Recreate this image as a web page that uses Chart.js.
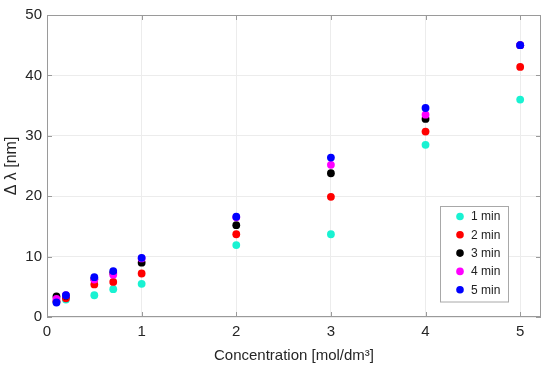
<!DOCTYPE html>
<html>
<head>
<meta charset="utf-8">
<script src="https://cdn.jsdelivr.net/npm/chart.js@4"></script>
<style>
  html, body { margin: 0; padding: 0; background: #fff; }
  #wrap { width: 550px; height: 375px; }
</style>
</head>
<body>
<div id="wrap"><canvas id="c"></canvas></div>
<script>
// concentrations [mol/dm3]
const conc = [0.1, 0.2, 0.5, 0.7, 1, 2, 3, 4, 5];
const seriesNames = ["1 min", "2 min", "3 min", "4 min", "5 min"];
const seriesColors = ["#19f2d2", "#ff0000", "#000000", "#ff00ff", "#0000ff"];

// Δλ [nm] per time
const min1 = [2.5, 2.9, 3.6, 4.6, 5.5, 11.9, 13.7, 28.5, 36.0];
const min2 = [2.6, 3.1, 5.4, 5.8, 7.2, 13.7, 19.9, 30.7, 41.4];
const min3 = [3.4, 3.5, 6.3, 7.3, 9.0, 15.2, 23.8, 32.8, 45.0];
const min4 = [3.0, 3.6, 6.2, 7.0, 9.7, 16.5, 25.2, 33.5, 45.0];
const min5 = [2.4, 3.6, 6.6, 7.6, 9.8, 16.6, 26.4, 34.6, 45.0];
const allSeries = [min1, min2, min3, min4, min5];

const FONT = "'Liberation Sans', Arial, Helvetica, sans-serif";
const AXIS = "#9a9a9a";

// box around plot with inward ticks, like the matlab axes
const boxPlugin = {
  id: "box",
  afterDatasetsDraw(chart) {
    const { ctx, chartArea: a, scales } = chart;
    ctx.save();
    ctx.strokeStyle = AXIS;
    ctx.lineWidth = 1;
    ctx.strokeRect(a.left + 0.5, a.top + 0.5, a.right - a.left - 1, a.bottom - a.top - 1);
    ctx.beginPath();
    scales.x.ticks.forEach(t => {
      const px = Math.round(scales.x.getPixelForValue(t.value)) + 0.5;
      ctx.moveTo(px, a.bottom); ctx.lineTo(px, a.bottom - 5);
      ctx.moveTo(px, a.top); ctx.lineTo(px, a.top + 5);
    });
    scales.y.ticks.forEach(t => {
      const py = Math.round(scales.y.getPixelForValue(t.value)) + 0.5;
      ctx.moveTo(a.left, py); ctx.lineTo(a.left + 5, py);
      ctx.moveTo(a.right, py); ctx.lineTo(a.right - 5, py);
    });
    ctx.stroke();
    ctx.restore();
  }
};

// legend inside the plot, lower right
const legendBox = {
  id: "legendBox",
  afterDraw(chart) {
    const { ctx, chartArea: a } = chart;
    const w = 68, rowH = 18.3;
    const h = rowH * seriesNames.length + 4;
    const x0 = a.right - 33 - w, y0 = a.bottom - 16 - h;
    ctx.save();
    ctx.fillStyle = "#fff";
    ctx.fillRect(x0, y0, w, h);
    ctx.strokeStyle = "#a8a8a8";
    ctx.lineWidth = 1;
    ctx.strokeRect(Math.round(x0) + 0.5, Math.round(y0) + 0.5, w, h);
    ctx.font = "12px " + FONT;
    ctx.textBaseline = "middle";
    seriesNames.forEach((name, i) => {
      const cy = y0 + 11 + i * rowH;
      ctx.fillStyle = seriesColors[i];
      ctx.beginPath();
      ctx.arc(x0 + 20, cy, 3.8, 0, Math.PI * 2);
      ctx.fill();
      ctx.fillStyle = "#222";
      ctx.fillText(name, x0 + 31, cy + 0.5);
    });
    ctx.restore();
  }
};

// later series drawn on top (blue last), so lower order for later ones
const datasets = allSeries.map((vals, i) => ({
  label: seriesNames[i],
  data: conc.map((c, j) => ({ x: c, y: vals[j] })),
  backgroundColor: seriesColors[i],
  borderColor: seriesColors[i],
  borderWidth: 0,
  pointRadius: 3.9,
  pointHoverRadius: 3.9,
  order: seriesNames.length - i
}));

new Chart(document.getElementById("c"), {
  type: "scatter",
  data: { datasets },
  plugins: [boxPlugin, legendBox],
  options: {
    responsive: true,
    maintainAspectRatio: false,
    animation: false,
    layout: { padding: { top: 15, right: 9, left: 0, bottom: 0 } },
    plugins: { legend: { display: false }, tooltip: { enabled: false } },
    scales: {
      x: {
        type: "linear",
        min: 0, max: 5.22,
        grid: { color: "#ececec", drawTicks: false },
        border: { display: false },
        ticks: { stepSize: 1, includeBounds: false, padding: 6, color: "#262626", font: { family: FONT, size: 15 } },
        title: { display: true, text: "Concentration [mol/dm³]", color: "#262626",
                 font: { family: FONT, size: 15 }, padding: { top: 3, bottom: 10 } },
        afterFit(scale) { scale.height = 58; }
      },
      y: {
        min: 0, max: 50,
        grid: { color: "#ececec", drawTicks: false },
        border: { display: false },
        ticks: { stepSize: 10, padding: 5, color: "#262626", font: { family: FONT, size: 15 } },
        title: { display: true, text: "Δ λ [nm]", color: "#262626",
                 font: { family: FONT, size: 16 }, padding: { top: 2, bottom: 0 } },
        afterFit(scale) { scale.width = 47; }
      }
    }
  }
});
</script>
</body>
</html>
